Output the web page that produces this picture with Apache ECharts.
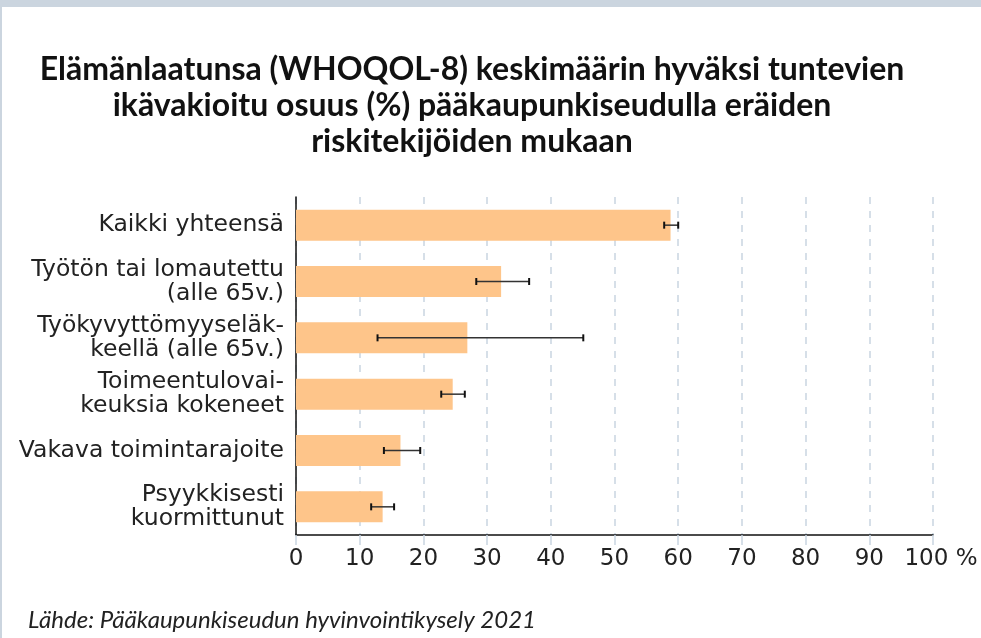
<!DOCTYPE html>
<html>
<head>
<meta charset="utf-8">
<script src="https://cdn.jsdelivr.net/npm/echarts@6/dist/echarts.min.js"></script>
<style>
    html, body { margin: 0; padding: 0; background: #fff; }
    #chart { width: 981px; height: 638px; }
</style>
</head>
<body>
<div id="chart"></div>
<script>
// riskitekijät, ylhäältä alas
let categories = [
    'Kaikki yhteensä',
    'Työtön tai lomautettu\n(alle 65v.)',
    'Työkyvyttömyyseläk-\nkeellä (alle 65v.)',
    'Toimeentulovai-\nkeuksia kokeneet',
    'Vakava toimintarajoite',
    'Psyykkisesti\nkuormittunut'
];
let values = [58.8, 32.2, 26.9, 24.6, 16.4, 13.6];
let lower = [57.8, 28.3, 12.8, 22.8, 13.8, 11.8];
let upper = [60.0, 36.6, 45.1, 26.5, 19.5, 15.4];

let errData = [];
for (let i = 0; i < categories.length; i++) {
    errData.push([i, lower[i], upper[i]]);
}

let myChart = echarts.init(document.getElementById('chart'));

let option = {
    backgroundColor: '#ffffff',
    animation: false,
    title: {
        text: 'Elämänlaatunsa (WHOQOL-8) keskimäärin hyväksi tuntevien\nikävakioitu osuus (%) pääkaupunkiseudulla eräiden\nriskitekijöiden mukaan',
        left: 467,
        top: 47,
        textAlign: 'center',
        textStyle: {
            fontFamily: 'Lato',
            fontWeight: 'bold',
            fontSize: 32,
            lineHeight: 36,
            color: '#111'
        }
    },
    graphic: [
        {
            type: 'rect',
            shape: { x: 0, y: 0, width: 981, height: 7 },
            style: { fill: '#cbd5df' }
        },
        {
            type: 'rect',
            shape: { x: 0, y: 0, width: 2, height: 638 },
            style: { fill: '#cbd5df' }
        },
        {
            type: 'text',
            left: 28,
            top: 608,
            style: {
                text: 'Lähde: Pääkaupunkiseudun hyvinvointikysely 2021',
                font: 'italic 24px Lato',
                fill: '#222'
            }
        }
    ],
    grid: {
        left: 296,
        right: 48,
        top: 197,
        bottom: 103
    },
    xAxis: {
        type: 'value',
        min: 0,
        max: 100,
        interval: 10,
        axisLine: { show: true, lineStyle: { color: '#111', width: 1.5 } },
        axisTick: { show: true, length: 10, lineStyle: { color: '#c9d5e1', width: 1.5 } },
        splitLine: {
            show: true,
            lineStyle: { color: '#c9d5e1', width: 1.5, type: [7, 7] }
        },
        axisLabel: {
            margin: 13,
            fontSize: 23,
            fontFamily: 'DejaVu Sans',
            color: '#222',
            formatter: function (v) {
                return v === 100 ? '{p|100 %}' : String(v);
            },
            rich: {
                p: {
                    fontSize: 23,
                    fontFamily: 'DejaVu Sans',
                    color: '#222',
                    padding: [0, 0, 0, 16]
                }
            }
        }
    },
    yAxis: {
        type: 'category',
        data: categories,
        inverse: true,
        axisLine: { show: true, lineStyle: { color: '#111', width: 1.5 } },
        axisTick: { show: false },
        axisLabel: {
            margin: 12,
            fontSize: 23.5,
            lineHeight: 24,
            fontFamily: 'DejaVu Sans',
            color: '#222',
            align: 'right'
        }
    },
    series: [
        {
            type: 'bar',
            data: values,
            barWidth: '55%',
            itemStyle: { color: '#fec58a' },
            z: 2
        },
        {
            type: 'custom',
            data: errData,
            z: 3,
            renderItem: function (params, api) {
                let idx = api.value(0);
                let lo = api.coord([api.value(1), idx]);
                let hi = api.coord([api.value(2), idx]);
                let y = lo[1];
                let cap = 3.5;
                let st = { stroke: '#333', lineWidth: 1.5 };
                let capSt = { stroke: '#111', lineWidth: 2 };
                return {
                    type: 'group',
                    children: [
                        { type: 'line', shape: { x1: lo[0], y1: y, x2: hi[0], y2: y }, style: st },
                        { type: 'line', shape: { x1: lo[0], y1: y - cap, x2: lo[0], y2: y + cap }, style: capSt },
                        { type: 'line', shape: { x1: hi[0], y1: y - cap, x2: hi[0], y2: y + cap }, style: capSt }
                    ]
                };
            }
        }
    ]
};

myChart.setOption(option);
</script>
</body>
</html>
